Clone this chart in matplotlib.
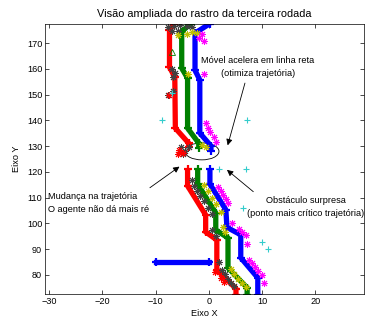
import numpy as np
import matplotlib
matplotlib.use("Agg")
import matplotlib.pyplot as plt
from matplotlib.patches import Ellipse

plt.rcParams['font.family'] = ['Liberation Sans', 'DejaVu Sans']
plt.rcParams['font.size'] = 6.6

# trajetorias (trecho superior e inferior) de cada agente
red_up_x = [-6.6, -7.4, -7.4, -6.4, -6.3, -3.8, -3.8]
red_up_y = [177.4, 175.0, 160.7, 156.8, 137.0, 131.2, 129.7]
red_lo_x = [-4.0, -4.0, -0.6, -0.6, 1.5, 1.5, 5.1, 5.1]
red_lo_y = [121.2, 114.6, 103.3, 96.7, 93.6, 82.0, 74.7, 72.4]

green_up_x = [-3.4, -5.1, -5.1, -4.0, -4.0, -1.9, -1.9]
green_up_y = [177.6, 174.5, 160.3, 156.4, 137.0, 131.2, 129.3]
green_lo_x = [-2.1, -2.1, 1.3, 1.3, 3.6, 3.6, 7.2, 7.2]
green_lo_y = [121.2, 115.3, 104.1, 97.5, 94.4, 82.8, 75.0, 72.4]

blue_up_x = [0.2, -2.6, -2.6, -1.7, -1.7, 0.4, 0.4]
blue_up_y = [177.6, 173.9, 159.5, 155.7, 135.1, 130.1, 128.3]
blue_lo_x = [0.2, 0.2, 3.2, 3.4, 6.0, 6.0, 9.2, 9.2]
blue_lo_y = [121.2, 115.3, 105.3, 98.5, 95.6, 86.7, 78.9, 72.4]

# trajetoria antiga (reta horizontal)
bar_x = [-10.0, 0.0]
bar_y = [85.0, 85.0]

# rastros marcados com asterisco
dark_x = [-7.6, -6.6, -5.4, -4.2, -3.2, -7.0, -5.8, -7.0, -6.3, -6.8, -6.8, -7.6,
          -5.2, -4.5, -4.9, -3.8, -3.2, -2.8, -2.2, -1.6, -1.0, -0.2, 0.5, 0.6, 1.4,
          2.0, 2.4, 3.0, 3.6, 4.2, 4.8]
dark_y = [176.3, 176.8, 176.9, 176.6, 176.2, 174.8, 174.6, 160.0, 158.3, 156.7, 151.5, 149.8,
          129.5, 128.3, 127.0, 129.8, 116.8, 114.5, 112.6, 110.8, 108.6, 106.0, 103.5, 97.5, 95.2,
          85.0, 82.0, 80.2, 78.6, 77.0, 75.6]
yellow_x = [-5.8, -4.2, -3.2, -2.2, -4.0, -1.3, -0.5, -1.0, -0.2, 0.6, 1.4, 2.2, 2.6, 3.1,
            4.2, 4.8, 5.4, 6.2, 7.0]
yellow_y = [173.2, 173.5, 174.2, 173.8, 158.0, 130.5, 129.6, 115.0, 112.5, 110.0, 107.5,
            104.5, 98.5, 96.5, 82.5, 80.5, 78.6, 77.0, 75.5]
magenta_x = [-1.2, -1.8, -1.0, -1.0, -0.6, -0.2, 0.3, 1.0, 1.4, 1.8, 2.3, 2.7, 3.2, 3.6,
             4.4, 5.6, 6.3, 7.0, 7.2, 7.5, 8.1, 8.7, 9.3, 9.9, 10.4]
magenta_y = [173.5, 172.0, 171.0, 158.0, 139.0, 137.0, 135.5, 133.5, 131.5, 114.0, 112.5,
             111.0, 109.5, 108.0, 100.0, 97.8, 96.8, 95.5, 92.0, 86.0, 84.5, 83.0, 81.5, 80.0,
             77.0]
redstar_x = [-5.6, -4.8, -5.8, -7.5, 1.2, 2.2, 2.8]
redstar_y = [128.6, 127.4, 126.8, 150.0, 81.0, 78.8, 77.2]

# obstaculos
obst_x = [-8.9, 7.2, -7.0, 1.9, 7.0, 6.4, 10.0, 11.1]
obst_y = [140.2, 140.2, 150.6, 121.2, 121.2, 106.0, 92.9, 90.2]

fig = plt.figure(figsize=(3.66, 3.26), dpi=100)
ax = fig.add_axes([0.123, 0.098, 0.872, 0.828])

lw = 3.8
for xs, ys, c in [(red_up_x, red_up_y, 'red'), (red_lo_x, red_lo_y, 'red'),
                  (green_up_x, green_up_y, (0, 0.5, 0)), (green_lo_x, green_lo_y, (0, 0.5, 0)),
                  (blue_up_x, blue_up_y, 'blue'), (blue_lo_x, blue_lo_y, 'blue')]:
    ax.plot(xs, ys, '-', color=c, lw=lw, solid_capstyle='butt')
    ax.plot(xs, ys, '+', color=c, ms=6, mew=1.6)

ax.plot(bar_x, bar_y, '-', color='blue', lw=lw)
ax.plot(bar_x, bar_y, '+', color='blue', ms=6, mew=1.6)

star = (8, 2, 0)
ax.plot(dark_x, dark_y, ls='none', marker=star, color=(0.25, 0.25, 0.25), ms=5, mew=0.7)
ax.plot(yellow_x, yellow_y, ls='none', marker=star, color=(0.75, 0.75, 0), ms=5, mew=0.7)
ax.plot(magenta_x, magenta_y, ls='none', marker=star, color='magenta', ms=5, mew=0.7)
ax.plot(redstar_x, redstar_y, ls='none', marker=star, color='red', ms=5, mew=0.7)
ax.plot(obst_x, obst_y, '+', color=(0.2, 0.8, 0.8), ms=5, mew=0.8)
ax.plot([-7.0], [166.5], '^', color=(0, 0.5, 0), ms=4, mew=0.6, fillstyle='none')

ax.add_patch(Ellipse((-1.3, 128.0), 6.4, 6.6, fill=False, ec='black', lw=0.6))

arr = dict(arrowstyle='-|>', color='black', lw=0.6, mutation_scale=9)
ax.annotate('Móvel acelera em linha reta\n(otimiza trajetória)', xy=(3.4, 129.3),
            xytext=(9.2, 160.8), ha='center', va='center', linespacing=1.5,
            arrowprops=dict(arr, relpos=(0.4, 0.0)))
ax.annotate('Mudança na trajetória\nO agente não dá mais ré', xy=(-5.1, 122.7),
            xytext=(-30.3, 108.0), ha='left', va='center', linespacing=1.5,
            arrowprops=dict(arr, relpos=(0.95, 1.0)))
ax.annotate('Obstáculo surpresa\n(ponto mais crítico trajetória)', xy=(3.0, 121.5),
            xytext=(18.2, 106.4), ha='center', va='center', linespacing=1.5,
            arrowprops=dict(arr, relpos=(0.1, 1.0)))

ax.set_xlim(-30.8, 29.2)
ax.set_ylim(72.6, 177.4)
ax.set_xticks([-30, -20, -10, 0, 10, 20])
ax.set_yticks(np.arange(80, 171, 10))
ax.tick_params(direction='in', top=True, right=True, length=3, width=0.5, pad=2)
for s in ax.spines.values():
    s.set_linewidth(0.5)

ax.set_title('Visão ampliada do rastro da terceira rodada', pad=5)
ax.set_xlabel('Eixo X', labelpad=2)
ax.set_ylabel('Eixo Y', labelpad=4)

fig.savefig('out.png', dpi=100)
